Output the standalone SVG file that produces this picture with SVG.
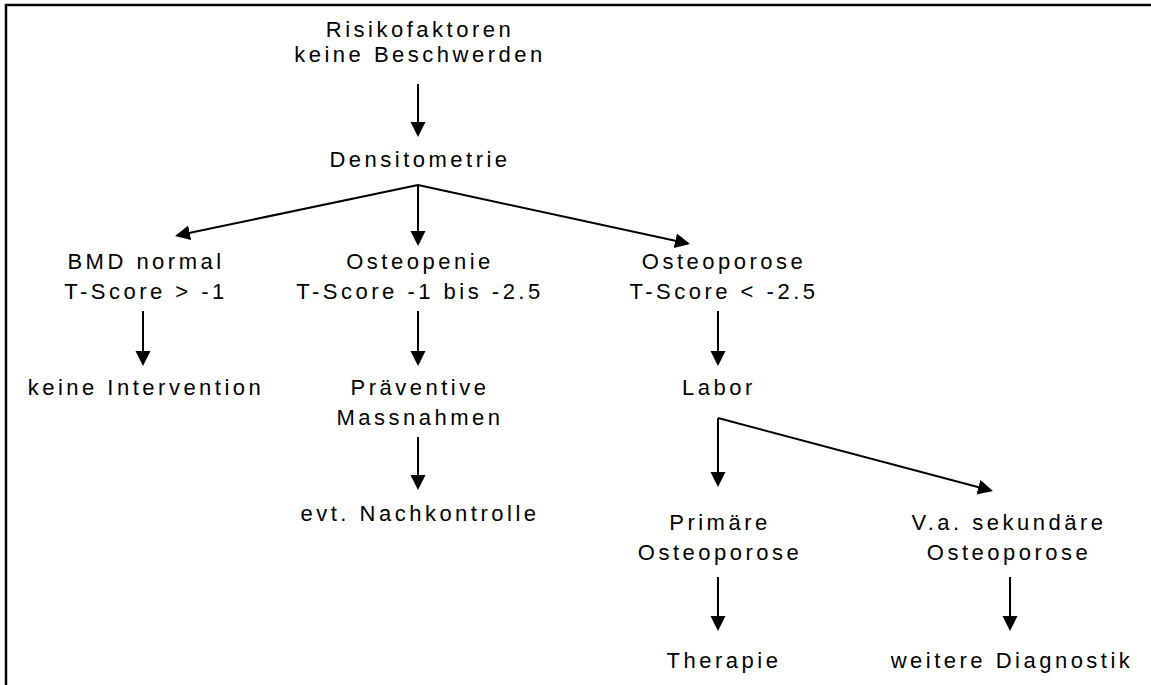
<svg xmlns="http://www.w3.org/2000/svg" width="1151" height="685" viewBox="0 0 1151 685">
  <style>
    .lbl { font-family: "Liberation Sans", Arial, sans-serif; font-size: 22px; letter-spacing: 3.5px; fill: #000; text-anchor: middle; }
    .edge { stroke: #000; stroke-width: 2; fill: none; marker-end: url(#head); }
    .frame { stroke: #000; stroke-width: 2.5; fill: none; }
  </style>
  <defs>
    <marker id="head" markerUnits="userSpaceOnUse" markerWidth="18" markerHeight="18" refX="13" refY="7.5" orient="auto">
      <path d="M0,0 L15,7.5 L0,15 z" fill="#000"/>
    </marker>
  </defs>

  <rect width="1151" height="685" fill="#fff"/>
  <!-- page frame: top and left rules only -->
  <path class="frame" d="M6,686 L6,5 L1152,5"/>

  <g id="connectors">
    <path class="edge" d="M418,84 L418,135"/>
    <path class="edge" d="M418,185 L177,235.5"/>
    <path class="edge" d="M418,185 L418,244"/>
    <path class="edge" d="M418,185 L688,243.5"/>
    <path class="edge" d="M143,311 L143,364"/>
    <path class="edge" d="M418,311 L418,364"/>
    <path class="edge" d="M718,311 L718,364"/>
    <path class="edge" d="M418,437 L418,488"/>
    <path class="edge" d="M718,418 L718,485"/>
    <path class="edge" d="M718,418 L991,490.5"/>
    <path class="edge" d="M718,577 L718,629"/>
    <path class="edge" d="M1010,577 L1010,629"/>
  </g>

  <g id="n-risk">
    <text class="lbl" x="420" y="37">Risikofaktoren</text>
    <text class="lbl" x="420" y="62">keine Beschwerden</text>
  </g>
  <g id="n-dens">
    <text class="lbl" x="420" y="167">Densitometrie</text>
  </g>
  <g id="n-bmd">
    <text class="lbl" x="146" y="269">BMD normal</text>
    <text class="lbl" x="146" y="299">T-Score &gt; -1</text>
  </g>
  <g id="n-penie">
    <text class="lbl" x="420" y="269">Osteopenie</text>
    <text class="lbl" x="420" y="299">T-Score -1 bis -2.5</text>
  </g>
  <g id="n-porose">
    <text class="lbl" x="724" y="269">Osteoporose</text>
    <text class="lbl" x="724" y="299">T-Score &lt; -2.5</text>
  </g>
  <g id="n-keine">
    <text class="lbl" x="146" y="395">keine Intervention</text>
  </g>
  <g id="n-praev">
    <text class="lbl" x="420" y="395">Präventive</text>
    <text class="lbl" x="420" y="425">Massnahmen</text>
  </g>
  <g id="n-labor">
    <text class="lbl" x="719" y="395">Labor</text>
  </g>
  <g id="n-nach">
    <text class="lbl" x="420" y="521">evt. Nachkontrolle</text>
  </g>
  <g id="n-prim">
    <text class="lbl" x="720" y="530">Primäre</text>
    <text class="lbl" x="720" y="560">Osteoporose</text>
  </g>
  <g id="n-sek">
    <text class="lbl" x="1009" y="530">V.a. sekundäre</text>
    <text class="lbl" x="1009" y="560">Osteoporose</text>
  </g>
  <g id="n-ther">
    <text class="lbl" x="724" y="668">Therapie</text>
  </g>
  <g id="n-diag">
    <text class="lbl" x="1012" y="668">weitere Diagnostik</text>
  </g>
</svg>
